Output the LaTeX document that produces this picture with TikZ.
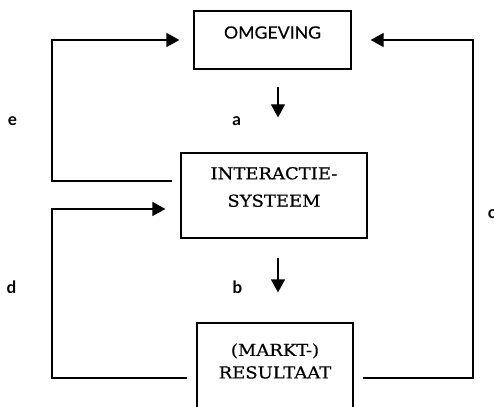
\documentclass[tikz,border=0pt]{standalone}
\usepackage{fontspec}
\setmainfont{DejaVu Serif}
\newfontfamily\boxserif[FakeStretch=1.09,FakeBold=0.6]{DejaVu Serif}
\newfontfamily\labfont{Lato}
\newfontfamily\omgfont[FakeStretch=1.04,FakeBold=0.3]{Lato}
\usetikzlibrary{arrows.meta}
\begin{document}
\begin{tikzpicture}[x=1pt,y=-1pt,
  box/.style={draw, line width=1.2pt, inner sep=0pt},
  conn/.style={line width=1.2pt, -{Triangle[length=13pt,width=14pt]}},
  lbl/.style={font=\labfont\bfseries\fontsize{17}{19}\selectfont, anchor=base, inner sep=0pt},
  sertxt/.style={align=center, inner sep=0pt},
]
\useasboundingbox (0,0) rectangle (494,406);
\clip (0,0) rectangle (494,406);
% boxes
\node[box, minimum width=157pt, minimum height=58pt] (omg) at (272.5,40) {};
\node[font=\omgfont\fontsize{17}{19}\selectfont, inner sep=0pt] (omgt) at (272.5,32.5) {OMGEVING};
\node[box, minimum width=186pt, minimum height=85pt] (inter) at (274,195.5) {};
\node[sertxt, font=\boxserif\fontsize{16.5}{27.4}\selectfont] (intert) at (274,187) {INTERACTIE-\\SYSTEEM};
\node[box, minimum width=156pt, minimum height=107pt] (res) at (275,376.5) {};
\node[sertxt, font=\boxserif\fontsize{16.5}{22.5}\selectfont] (rest) at (275,361) {(MARKT-)\\RESULTAAT};
% helper coordinates
\coordinate (xl) at (52,0);
\coordinate (xr) at (473,0);
\coordinate (xm) at (278,0);
\coordinate (inE) at ([yshift=14.5pt]inter.west);
\coordinate (inD) at ([yshift=-13.5pt]inter.west);
\coordinate (resL) at ([yshift=-1.5pt]res.west);
\coordinate (resR) at ([yshift=-1.5pt]res.east);
% connectors
\draw[conn, shorten <=8pt, shorten >=14pt] (inE) -| (xl |- omg.west) -- (omg.west);
\draw[conn, shorten <=9pt, shorten >=15pt] (resL) -| (xl |- inD) -- (inD);
\draw[conn, shorten <=9pt, shorten >=19pt] (resR) -| (xr |- omg.east) -- (omg.east);
\draw[conn, shorten <=17pt, shorten >=35pt] (omg.south -| xm) -- (inter.north -| xm);
\draw[conn, shorten <=19pt, shorten >=30pt] (inter.south -| xm) -- (res.north -| xm);
% labels
\node[lbl] (le) at (12.5,126) {e};
\node[lbl] (la) at (236.7,126) {a};
\node[lbl] (ld) at (11.5,293.3) {d};
\node[lbl] (lb) at (237.5,293.3) {b};
\node[lbl] (lc) at (492,218) {c};
\end{tikzpicture}
\end{document}
